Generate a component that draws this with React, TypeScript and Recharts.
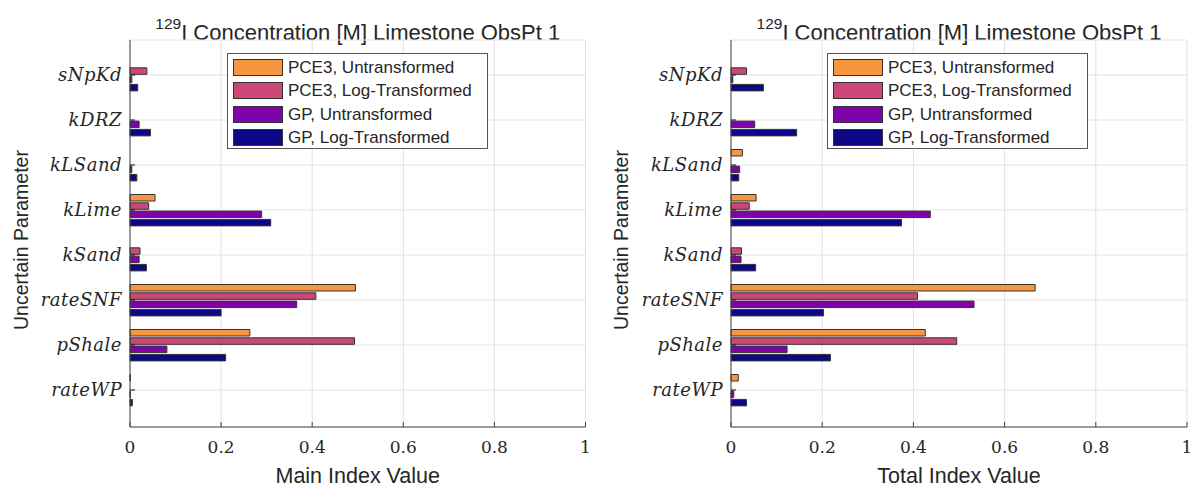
import React from 'react';
import { BarChart, Bar, XAxis, YAxis, CartesianGrid } from 'recharts';

// uncertain parameters, top to bottom
const params = ['sNpKd', 'kDRZ', 'kLSand', 'kLime', 'kSand', 'rateSNF', 'pShale', 'rateWP'];

// main (first-order) Sobol indices
const mainPceUntr = [0, 0, 0, 0.055, 0, 0.495, 0.263, 0.001];
const mainPceLog = [0.037, 0, 0, 0.041, 0.022, 0.408, 0.493, 0];
const mainGpUntr = [0.004, 0.02, 0.004, 0.289, 0.02, 0.366, 0.081, 0.001];
const mainGpLog = [0.017, 0.045, 0.015, 0.309, 0.036, 0.2, 0.21, 0.005];

// total Sobol indices
const totalPceUntr = [0, 0, 0.025, 0.055, 0, 0.667, 0.426, 0.016];
const totalPceLog = [0.034, 0, 0, 0.04, 0.023, 0.409, 0.495, 0];
const totalGpUntr = [0.004, 0.052, 0.019, 0.437, 0.022, 0.533, 0.123, 0.006];
const totalGpLog = [0.071, 0.144, 0.017, 0.374, 0.054, 0.203, 0.218, 0.034];

const xTicks = [0, 0.2, 0.4, 0.6, 0.8, 1];

const seriesKeys = ['pceUntr', 'pceLog', 'gpUntr', 'gpLog'];
const seriesNames = ['PCE3, Untransformed', 'PCE3, Log-Transformed', 'GP, Untransformed', 'GP, Log-Transformed'];
const seriesColors = ['#F89540', '#CC4778', '#7E03A8', '#0D0887'];

const buildRows = (a: number[], b: number[], c: number[], d: number[]) =>
  params.map((param, i) => ({ param, pceUntr: a[i], pceLog: b[i], gpUntr: c[i], gpLog: d[i] }));

const mainRows = buildRows(mainPceUntr, mainPceLog, mainGpUntr, mainGpLog);
const totalRows = buildRows(totalPceUntr, totalPceLog, totalGpUntr, totalGpLog);

const TEXT = '#262626';
const FRAME = '#444';
const SANS = '"Liberation Sans", Arial, Helvetica, sans-serif';
const MATH_SERIF = "'DejaVu Serif', serif";

// matlab-style ticks point into the axes
const BottomTick = (props: any) => {
  const { x, y, payload } = props;
  return (
    <g>
      <line x1={x} x2={x} y1={y} y2={y - 5} stroke={FRAME} />
      <text
        x={x}
        y={y + 26}
        textAnchor="middle"
        style={{ fontFamily: MATH_SERIF, fontSize: 17, fill: TEXT }}
      >
        {String(payload.value)}
      </text>
    </g>
  );
};

const TopTick = (props: any) => {
  const { x, y } = props;
  return <line x1={x} x2={x} y1={y} y2={y + 5} stroke={FRAME} />;
};

const LeftTick = (props: any) => {
  const { x, y, payload } = props;
  return (
    <g>
      <line x1={x} x2={x + 5} y1={y} y2={y} stroke="#111" />
      <text
        x={x - 8}
        y={y}
        dy="0.32em"
        textAnchor="end"
        style={{
          fontFamily: MATH_SERIF,
          fontStyle: 'italic',
          fontSize: 18,
          letterSpacing: 0.5,
          fill: TEXT,
        }}
      >
        {payload.value}
      </text>
    </g>
  );
};

const RightTick = (props: any) => {
  const { x, y } = props;
  return <line x1={x - 5} x2={x} y1={y} y2={y} stroke={FRAME} />;
};

const LegendBox = ({ left }: { left: number }) => (
  <div
    style={{
      position: 'absolute',
      left,
      top: 53,
      width: 259,
      height: 94,
      border: '1px solid #555',
      background: '#fff',
      boxSizing: 'content-box',
    }}
  >
    {seriesNames.map((name, i) => (
      <div key={name} style={{ position: 'absolute', left: 5, top: 5 + i * 23.3, height: 17, display: 'flex' }}>
        <div
          style={{
            width: 48,
            height: 15,
            background: seriesColors[i],
            border: '1px solid #333',
          }}
        />
        <span
          style={{
            marginLeft: 5,
            fontFamily: SANS,
            fontSize: 17,
            lineHeight: '17px',
            color: TEXT,
            whiteSpace: 'nowrap',
          }}
        >
          {name}
        </span>
      </div>
    ))}
  </div>
);

interface PanelProps {
  left: number;
  width: number;
  axisWidth: number;
  marginRight: number;
  rows: any[];
  xLabel: string;
}

const IndexPanel = ({ left, width, axisWidth, marginRight, rows, xLabel }: PanelProps) => {
  const plotWidth = width - axisWidth - marginRight;
  return (
    <div style={{ position: 'absolute', left, top: 0, width, height: 488 }}>
      <div
        style={{
          position: 'absolute',
          left: axisWidth,
          width: plotWidth,
          top: 13,
          textAlign: 'center',
          fontFamily: SANS,
          fontSize: 22,
          lineHeight: '22px',
          color: TEXT,
          whiteSpace: 'nowrap',
        }}
      >
        <span style={{ fontSize: 15.5, verticalAlign: 11 }}>129</span>I Concentration [M] Limestone ObsPt 1
      </div>
      <div
        style={{
          position: 'absolute',
          left: 21,
          top: 240,
          transform: 'translate(-50%, -50%) rotate(-90deg)',
          fontFamily: SANS,
          fontSize: 19.5,
          color: TEXT,
          whiteSpace: 'nowrap',
        }}
      >
        Uncertain Parameter
      </div>
      <BarChart
        width={width}
        height={488}
        data={rows}
        layout="vertical"
        margin={{ top: 40, right: marginRight, left: 0, bottom: 0 }}
        barSize={6.5}
        barGap={1.8}
      >
        <CartesianGrid stroke="#e2e2e2" />
        <XAxis
          type="number"
          domain={[0, 1]}
          ticks={xTicks}
          height={61}
          stroke={FRAME}
          tickSize={0}
          tickMargin={0}
          tick={<BottomTick />}
          label={{
            value: xLabel,
            position: 'insideBottom',
            offset: 5,
            fill: TEXT,
            fontFamily: SANS,
            fontSize: 21.5,
          }}
        />
        <XAxis
          xAxisId="top"
          orientation="top"
          type="number"
          domain={[0, 1]}
          ticks={xTicks}
          height={0}
          stroke={FRAME}
          tickSize={0}
          tickMargin={0}
          tick={<TopTick />}
        />
        <YAxis
          type="category"
          dataKey="param"
          width={axisWidth}
          padding={{ top: 12.5, bottom: 14.5 }}
          stroke={FRAME}
          tickSize={0}
          tickMargin={0}
          tick={<LeftTick />}
        />
        <YAxis
          yAxisId="right"
          orientation="right"
          type="category"
          dataKey="param"
          width={0}
          padding={{ top: 12.5, bottom: 14.5 }}
          stroke={FRAME}
          tickSize={0}
          tickMargin={0}
          tick={<RightTick />}
        />
        {seriesKeys.map((key, i) => (
          <Bar
            key={key}
            dataKey={key}
            name={seriesNames[i]}
            fill={seriesColors[i]}
            stroke="#333"
            strokeWidth={1}
            isAnimationActive={false}
          />
        ))}
      </BarChart>
      <LegendBox left={227} />
    </div>
  );
};

export default function App() {
  return (
    <div style={{ position: 'absolute', left: 0, top: 0, width: 1192, height: 488, background: '#fff' }}>
      <IndexPanel left={0} width={600} axisWidth={130} marginRight={14.5} rows={mainRows} xLabel="Main Index Value" />
      <IndexPanel left={600} width={592} axisWidth={131} marginRight={5} rows={totalRows} xLabel="Total Index Value" />
    </div>
  );
}
